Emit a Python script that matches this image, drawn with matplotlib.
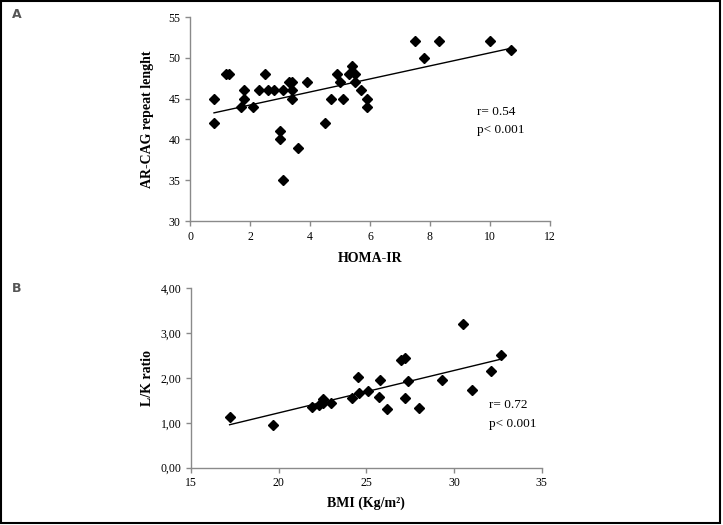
import numpy as np
import matplotlib
matplotlib.use("Agg")
import matplotlib.pyplot as plt
from matplotlib.patches import Rectangle
from matplotlib.ticker import FuncFormatter

plt.rcParams['font.family'] = ['Liberation Serif', 'DejaVu Serif']

# panel A: HOMA-IR vs AR-CAG repeat length
homa = [0.8, 0.8, 1.2, 1.3, 1.7, 1.8, 1.8, 2.1, 2.3, 2.5, 2.6, 2.8, 3.1,
        3.3, 3.4, 3.4, 3.4, 3.9, 3.0, 3.0, 3.6, 3.1, 4.5, 4.7, 4.9, 5.0,
        5.1, 5.3, 5.4, 5.5, 5.5, 5.7, 5.9, 5.9, 7.5, 7.8, 8.3, 10.0, 10.7]
cag = [45, 42, 48, 48, 44, 46, 45, 44, 46, 48, 46, 46, 46,
       47, 47, 46, 45, 47, 41, 40, 39, 35, 42, 45, 48, 47,
       45, 48, 49, 48, 47, 46, 45, 44, 52, 50, 52, 52, 51]

# panel B: BMI vs L/K ratio
bmi = [17.2, 19.7, 21.9, 22.3, 22.5, 22.5, 23.0, 24.2, 24.5, 24.6, 25.1,
       25.7, 25.8, 26.2, 27.0, 27.2, 27.2, 27.4, 28.0, 29.3, 30.5, 31.0,
       32.1, 32.7]
lk = [1.12, 0.96, 1.36, 1.40, 1.44, 1.53, 1.45, 1.56, 2.03, 1.67, 1.71,
      1.58, 1.96, 1.32, 2.40, 2.44, 1.56, 1.94, 1.34, 1.96, 3.20, 1.73,
      2.16, 2.52]

fig = plt.figure(figsize=(7.23, 5.25), dpi=100)
spine_col = '#8a8a8a'


def style(ax):
    for s in ['top', 'right']:
        ax.spines[s].set_visible(False)
    for s in ['left', 'bottom']:
        ax.spines[s].set_color(spine_col)
        ax.spines[s].set_linewidth(1.0)
    ax.tick_params(colors=spine_col, labelcolor='black', labelsize=8.5,
                   length=3.5, width=1.0, direction='out')


def scatter_fit(ax, x, y):
    ax.plot(x, y, 'D', color='black', markersize=5.6, zorder=3)
    k, b = np.polyfit(x, y, 1)
    xs = np.array([min(x), max(x)])
    ax.plot(xs, k * xs + b, color='black', lw=1.0, zorder=2)


# panel A
ax1 = fig.add_axes([0.2628, 0.579, 0.4979, 0.3886])
scatter_fit(ax1, homa, cag)
ax1.set_xlim(0, 12)
ax1.set_ylim(30, 55)
ax1.set_xticks(range(0, 13, 2))
ax1.set_yticks(range(30, 56, 5))
style(ax1)
ax1.set_xlabel('HOMA-IR', fontsize=10, fontweight='bold', labelpad=7)
ax1.set_ylabel('AR-CAG repeat lenght', fontsize=10, fontweight='bold')
ax1.yaxis.set_label_coords(-0.10, 0.5)
ax1.text(9.57, 43.4, 'r= 0.54', fontsize=9.5, va='center')
ax1.text(9.57, 41.1, 'p< 0.001', fontsize=9.5, va='center')

# panel B
ax2 = fig.add_axes([0.2642, 0.1091, 0.485, 0.3418])
scatter_fit(ax2, bmi, lk)
ax2.set_xlim(15, 35)
ax2.set_ylim(0, 4)
ax2.set_xticks(range(15, 36, 5))
ax2.set_yticks(range(0, 5))
ax2.yaxis.set_major_formatter(FuncFormatter(lambda v, p: f'{v:.2f}'.replace('.', ',')))
style(ax2)
ax2.set_xlabel('BMI (Kg/m²)', fontsize=10, fontweight='bold', labelpad=5)
ax2.set_ylabel('L/K ratio', fontsize=10, fontweight='bold')
ax2.yaxis.set_label_coords(-0.106, 0.5)
ax2.text(32.0, 1.40, 'r= 0.72', fontsize=9.5, va='center')
ax2.text(32.0, 0.98, 'p< 0.001', fontsize=9.5, va='center')

# panel letters
fig.text(0.017, 0.972, 'A', fontsize=9, fontweight='bold', color='#555555',
         family='DejaVu Sans', va='center')
fig.text(0.017, 0.451, 'B', fontsize=9, fontweight='bold', color='#555555',
         family='DejaVu Sans', va='center')

# outer frame
fig.patches.append(Rectangle((0.001, 0.004), 0.995, 0.994, transform=fig.transFigure,
                             fill=False, edgecolor='black', lw=1.5))

fig.savefig('out.png', dpi=100)
